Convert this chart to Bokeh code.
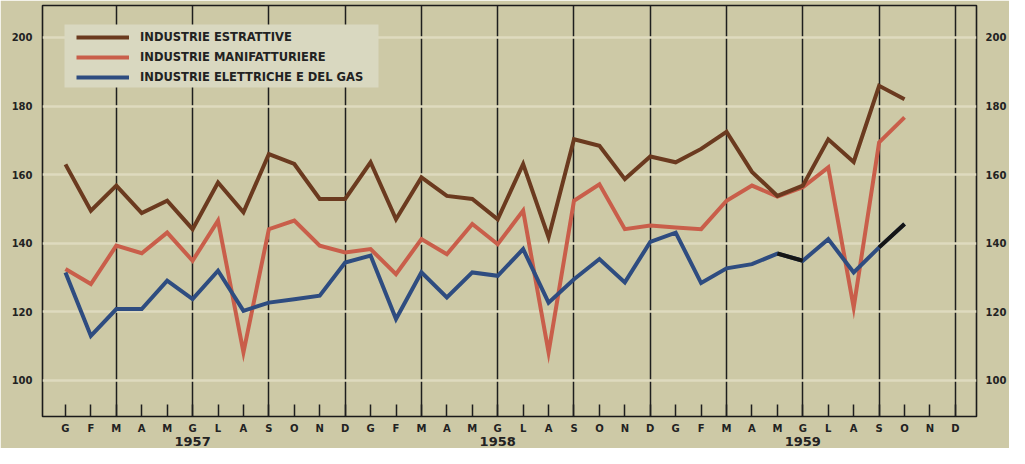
from bokeh.plotting import figure
from bokeh.models import (Range1d, LinearAxis, FixedTicker, Legend, LegendItem, BoxAnnotation)
from bokeh.embed import file_html
from bokeh.resources import INLINE

# ---- data ----
month_letters = ["G", "F", "M", "A", "M", "G", "L", "A", "S", "O", "N", "D"] * 3
years = ["1957", "1958", "1959"]
year_pos = [5, 17, 29]
months = list(range(36))

estrattive = [163, 149.5, 156.8, 148.8, 152.4, 144.1, 157.7, 149, 166, 163.1, 152.9, 152.9,
              163.6, 147, 159.2, 153.8, 152.9, 147, 163.1, 141.7, 170.3, 168.4, 158.7, 165.3,
              163.6, 167.5, 172.5, 160.8, 153.8, 156.8, 170.3, 163.7, 185.9, 182]
manifatturiere = [132.5, 128.1, 139.3, 137.1, 143.1, 134.9, 146.6, 108.2, 144.1, 146.6, 139.3, 137.3,
                  138.3, 131, 141.2, 136.8, 145.6, 139.7, 149.5, 108.2, 152.4, 157.2, 144.1, 145.2,
                  144.6, 144.1, 152.4, 156.8, 153.6, 156.3, 162.1, 121.3, 169.4, 176.7]
elettriche = [131.5, 113, 120.8, 120.8, 129.1, 123.7, 132, 120.3, 122.7, 123.7, 124.7, 134.4,
              136.4, 117.9, 131.5, 124.2, 131.5, 130.5, 138.3, 122.7, 129.5, 135.4, 128.6, 140.4,
              143.1, 128.4, 132.7, 133.9, 137, 134.9, 141.2, 131.5, 138.8, 145.6]
# months of the provisional (black) segments of the gas/electric series
black_segments = [(28, 29), (32, 33)]

y_ticks = [100, 120, 140, 160, 180, 200]
quarter_lines = [2, 5, 8, 11, 14, 17, 20, 23, 26, 29, 32, 35]

BG = "#cdc9a6"
BROWN = "#6b3a1f"
PINK = "#c95e4a"
BLUE = "#2e4c80"
FONT = "DejaVu Sans"
TXT = "#222222"

p = figure(width=1009, height=448, output_backend="svg", toolbar_location=None,
           x_range=Range1d(-0.903, 35.83), y_range=Range1d(89.5, 209.3),
           min_border_left=42, min_border_right=23, min_border_top=5, min_border_bottom=32,
           background_fill_color=BG, border_fill_color=BG)
p.outline_line_color = "#1a1a1a"
p.outline_line_width = 1.6

p.axis.visible = False
p.xgrid.ticker = FixedTicker(ticks=quarter_lines)
p.xgrid.grid_line_color = "#1e1e1e"
p.xgrid.grid_line_width = 1.5
p.ygrid.ticker = FixedTicker(ticks=y_ticks)
p.ygrid.grid_line_color = "#dedabf"
p.ygrid.grid_line_width = 2.5

# month axis
xa = LinearAxis(ticker=FixedTicker(ticks=months),
                major_label_overrides={i: month_letters[i] for i in months})
xa.axis_line_color = None
xa.major_tick_in = 12
xa.major_tick_out = 0
xa.major_tick_line_color = "#1e1e1e"
xa.major_tick_line_width = 1.5
xa.minor_tick_line_color = None
xa.major_label_standoff = 6
xa.major_label_text_font = FONT
xa.major_label_text_font_style = "bold"
xa.major_label_text_font_size = "10px"
xa.major_label_text_color = TXT
p.add_layout(xa, "below")

# year axis
ya = LinearAxis(ticker=FixedTicker(ticks=year_pos),
                major_label_overrides={year_pos[k]: years[k] for k in range(3)})
ya.axis_line_color = None
ya.major_tick_line_color = None
ya.minor_tick_line_color = None
ya.major_tick_in = 0
ya.major_tick_out = 0
ya.major_label_standoff = 0
ya.major_label_text_font = FONT
ya.major_label_text_font_style = "bold"
ya.major_label_text_font_size = "13px"
ya.major_label_text_color = TXT
p.add_layout(ya, "below")

for side, standoff in (("left", 10), ("right", 9)):
    ax = LinearAxis(ticker=FixedTicker(ticks=y_ticks))
    ax.axis_line_color = None
    ax.major_tick_line_color = None
    ax.minor_tick_line_color = None
    ax.major_tick_in = 0
    ax.major_tick_out = 0
    ax.major_label_standoff = standoff
    ax.major_label_text_font = FONT
    ax.major_label_text_font_style = "bold"
    ax.major_label_text_font_size = "10px"
    ax.major_label_text_color = TXT
    p.add_layout(ax, side)

n = len(estrattive)
x = months[:n]
r_man = p.line(x, manifatturiere, line_color=PINK, line_width=4, line_join="miter")
r_ele = p.line(x, elettriche, line_color=BLUE, line_width=4, line_join="miter")
for a, b in black_segments:
    p.line(x[a:b + 1], elettriche[a:b + 1], line_color="#151515", line_width=4)
r_est = p.line(x, estrattive, line_color=BROWN, line_width=4, line_join="miter")

# legend panel (screen units, measured from the frame's bottom-left corner)
panel = BoxAnnotation(left=22, right=336, bottom=329, top=392,
                      left_units="screen", right_units="screen",
                      bottom_units="screen", top_units="screen",
                      fill_color="#d9d8c0", fill_alpha=1, line_color=None)
p.add_layout(panel)

legend = Legend(items=[
    LegendItem(label="INDUSTRIE ESTRATTIVE", renderers=[r_est]),
    LegendItem(label="INDUSTRIE MANIFATTURIERE", renderers=[r_man]),
    LegendItem(label="INDUSTRIE ELETTRICHE E DEL GAS", renderers=[r_ele]),
], location=(34, 330))
legend.background_fill_alpha = 0
legend.border_line_color = None
legend.padding = 0
legend.spacing = 2
legend.glyph_width = 53
legend.glyph_height = 18
legend.label_height = 18
legend.label_standoff = 11
legend.label_text_font = FONT
legend.label_text_font_style = "bold"
legend.label_text_font_size = "11.5px"
legend.label_text_color = TXT
p.add_layout(legend, "center")

open("out.html", "w").write(file_html(p, INLINE))
